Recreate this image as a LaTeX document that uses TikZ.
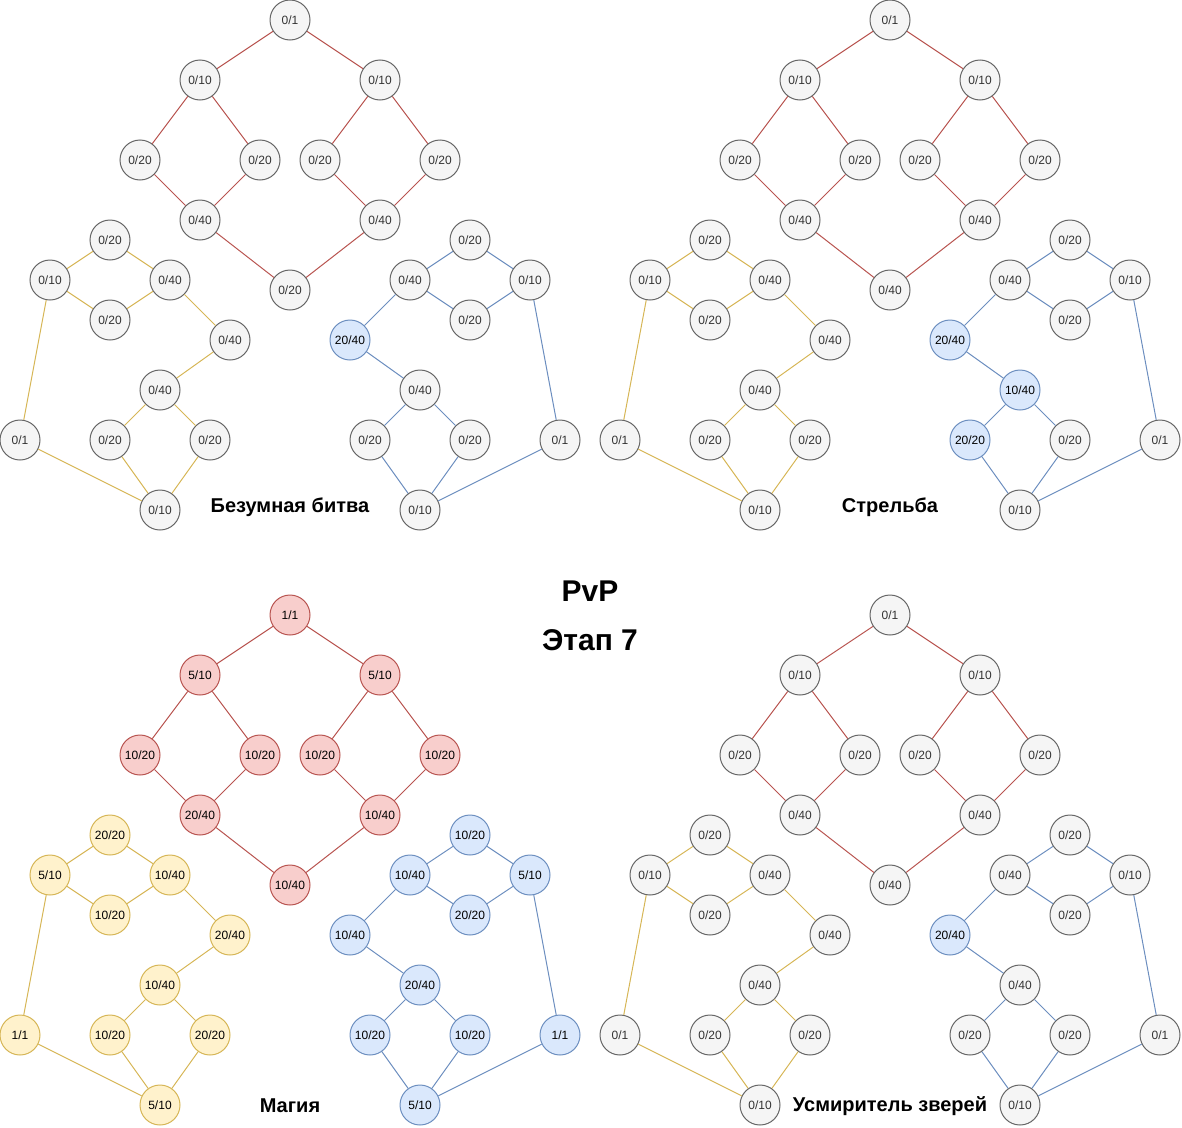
\documentclass[tikz,border=0pt]{standalone}
\usepackage{fontspec}
\setmainfont{Liberation Sans}
\definecolor{grayfill}{HTML}{F5F5F5}
\definecolor{graydraw}{HTML}{666666}
\definecolor{graytext}{HTML}{333333}
\definecolor{redfill}{HTML}{F8CECC}
\definecolor{redline}{HTML}{B85450}
\definecolor{yelfill}{HTML}{FFF2CC}
\definecolor{yelline}{HTML}{D6B656}
\definecolor{bluefill}{HTML}{DAE8FC}
\definecolor{blueline}{HTML}{6C8EBF}
\begin{document}
\begin{tikzpicture}[x=1pt,y=-1pt]
  \tikzset{lvl/.style={circle,draw=graydraw,fill=grayfill,text=graytext,line width=1pt,minimum
      size=40pt,inner sep=0pt,font=\fontsize{12}{14}\selectfont},gnode/.style={lvl},
    rnode/.style={lvl,draw=redline,fill=redfill,text=black},ynode/.style={lvl,draw=yelline,
      fill=yelfill,text=black},bnode/.style={lvl,draw=blueline,fill=bluefill,text=black},
    redl/.style={draw=redline,line width=1pt},yell/.style={draw=yelline,line width=1pt},
    bluel/.style={draw=blueline,line width=1pt},
    tree/.style={font=\bfseries\fontsize{20}{24}\selectfont},
    head/.style={font=\bfseries\fontsize{30}{36}\selectfont}}
  \useasboundingbox (0,0) rectangle (1182,1127);

  % Безумная битва
  \begin{scope}[shift={(0,0)}]
    \node[gnode] (bbr0) at (290,20) {0/1};
    \node[gnode] (bbr1) at (200,80) {0/10};
    \node[gnode] (bbr2) at (380,80) {0/10};
    \node[gnode] (bbr3) at (140,160) {0/20};
    \node[gnode] (bbr4) at (260,160) {0/20};
    \node[gnode] (bbr5) at (320,160) {0/20};
    \node[gnode] (bbr6) at (440,160) {0/20};
    \node[gnode] (bbr7) at (200,220) {0/40};
    \node[gnode] (bbr8) at (380,220) {0/40};
    \node[gnode] (bbr9) at (290,290) {0/20};
    \node[gnode] (bby0) at (110,240) {0/20};
    \node[gnode] (bby1) at (50,280) {0/10};
    \node[gnode] (bby2) at (170,280) {0/40};
    \node[gnode] (bby3) at (110,320) {0/20};
    \node[gnode] (bby4) at (230,340) {0/40};
    \node[gnode] (bby5) at (160,390) {0/40};
    \node[gnode] (bby6) at (20,440) {0/1};
    \node[gnode] (bby7) at (110,440) {0/20};
    \node[gnode] (bby8) at (210,440) {0/20};
    \node[gnode] (bby9) at (160,510) {0/10};
    \node[gnode] (bbb0) at (470,240) {0/20};
    \node[gnode] (bbb1) at (410,280) {0/40};
    \node[gnode] (bbb2) at (530,280) {0/10};
    \node[gnode] (bbb3) at (470,320) {0/20};
    \node[bnode] (bbb4) at (350,340) {20/40};
    \node[gnode] (bbb5) at (420,390) {0/40};
    \node[gnode] (bbb6) at (370,440) {0/20};
    \node[gnode] (bbb7) at (470,440) {0/20};
    \node[gnode] (bbb8) at (560,440) {0/1};
    \node[gnode] (bbb9) at (420,510) {0/10};
    \node[tree] (bbname) at (290,507) {Безумная битва};
  \end{scope}

  % Стрельба
  \begin{scope}[shift={(600,0)}]
    \node[gnode] (str0) at (290,20) {0/1};
    \node[gnode] (str1) at (200,80) {0/10};
    \node[gnode] (str2) at (380,80) {0/10};
    \node[gnode] (str3) at (140,160) {0/20};
    \node[gnode] (str4) at (260,160) {0/20};
    \node[gnode] (str5) at (320,160) {0/20};
    \node[gnode] (str6) at (440,160) {0/20};
    \node[gnode] (str7) at (200,220) {0/40};
    \node[gnode] (str8) at (380,220) {0/40};
    \node[gnode] (str9) at (290,290) {0/40};
    \node[gnode] (sty0) at (110,240) {0/20};
    \node[gnode] (sty1) at (50,280) {0/10};
    \node[gnode] (sty2) at (170,280) {0/40};
    \node[gnode] (sty3) at (110,320) {0/20};
    \node[gnode] (sty4) at (230,340) {0/40};
    \node[gnode] (sty5) at (160,390) {0/40};
    \node[gnode] (sty6) at (20,440) {0/1};
    \node[gnode] (sty7) at (110,440) {0/20};
    \node[gnode] (sty8) at (210,440) {0/20};
    \node[gnode] (sty9) at (160,510) {0/10};
    \node[gnode] (stb0) at (470,240) {0/20};
    \node[gnode] (stb1) at (410,280) {0/40};
    \node[gnode] (stb2) at (530,280) {0/10};
    \node[gnode] (stb3) at (470,320) {0/20};
    \node[bnode] (stb4) at (350,340) {20/40};
    \node[bnode] (stb5) at (420,390) {10/40};
    \node[bnode] (stb6) at (370,440) {20/20};
    \node[gnode] (stb7) at (470,440) {0/20};
    \node[gnode] (stb8) at (560,440) {0/1};
    \node[gnode] (stb9) at (420,510) {0/10};
    \node[tree] (stname) at (290,507) {Стрельба};
  \end{scope}

  % Магия
  \begin{scope}[shift={(0,595)}]
    \node[rnode] (mgr0) at (290,20) {1/1};
    \node[rnode] (mgr1) at (200,80) {5/10};
    \node[rnode] (mgr2) at (380,80) {5/10};
    \node[rnode] (mgr3) at (140,160) {10/20};
    \node[rnode] (mgr4) at (260,160) {10/20};
    \node[rnode] (mgr5) at (320,160) {10/20};
    \node[rnode] (mgr6) at (440,160) {10/20};
    \node[rnode] (mgr7) at (200,220) {20/40};
    \node[rnode] (mgr8) at (380,220) {10/40};
    \node[rnode] (mgr9) at (290,290) {10/40};
    \node[ynode] (mgy0) at (110,240) {20/20};
    \node[ynode] (mgy1) at (50,280) {5/10};
    \node[ynode] (mgy2) at (170,280) {10/40};
    \node[ynode] (mgy3) at (110,320) {10/20};
    \node[ynode] (mgy4) at (230,340) {20/40};
    \node[ynode] (mgy5) at (160,390) {10/40};
    \node[ynode] (mgy6) at (20,440) {1/1};
    \node[ynode] (mgy7) at (110,440) {10/20};
    \node[ynode] (mgy8) at (210,440) {20/20};
    \node[ynode] (mgy9) at (160,510) {5/10};
    \node[bnode] (mgb0) at (470,240) {10/20};
    \node[bnode] (mgb1) at (410,280) {10/40};
    \node[bnode] (mgb2) at (530,280) {5/10};
    \node[bnode] (mgb3) at (470,320) {20/20};
    \node[bnode] (mgb4) at (350,340) {10/40};
    \node[bnode] (mgb5) at (420,390) {20/40};
    \node[bnode] (mgb6) at (370,440) {10/20};
    \node[bnode] (mgb7) at (470,440) {10/20};
    \node[bnode] (mgb8) at (560,440) {1/1};
    \node[bnode] (mgb9) at (420,510) {5/10};
    \node[tree] (mgname) at (290,511) {Магия};
  \end{scope}

  % Усмиритель зверей
  \begin{scope}[shift={(600,595)}]
    \node[gnode] (usr0) at (290,20) {0/1};
    \node[gnode] (usr1) at (200,80) {0/10};
    \node[gnode] (usr2) at (380,80) {0/10};
    \node[gnode] (usr3) at (140,160) {0/20};
    \node[gnode] (usr4) at (260,160) {0/20};
    \node[gnode] (usr5) at (320,160) {0/20};
    \node[gnode] (usr6) at (440,160) {0/20};
    \node[gnode] (usr7) at (200,220) {0/40};
    \node[gnode] (usr8) at (380,220) {0/40};
    \node[gnode] (usr9) at (290,290) {0/40};
    \node[gnode] (usy0) at (110,240) {0/20};
    \node[gnode] (usy1) at (50,280) {0/10};
    \node[gnode] (usy2) at (170,280) {0/40};
    \node[gnode] (usy3) at (110,320) {0/20};
    \node[gnode] (usy4) at (230,340) {0/40};
    \node[gnode] (usy5) at (160,390) {0/40};
    \node[gnode] (usy6) at (20,440) {0/1};
    \node[gnode] (usy7) at (110,440) {0/20};
    \node[gnode] (usy8) at (210,440) {0/20};
    \node[gnode] (usy9) at (160,510) {0/10};
    \node[gnode] (usb0) at (470,240) {0/20};
    \node[gnode] (usb1) at (410,280) {0/40};
    \node[gnode] (usb2) at (530,280) {0/10};
    \node[gnode] (usb3) at (470,320) {0/20};
    \node[bnode] (usb4) at (350,340) {20/40};
    \node[gnode] (usb5) at (420,390) {0/40};
    \node[gnode] (usb6) at (370,440) {0/20};
    \node[gnode] (usb7) at (470,440) {0/20};
    \node[gnode] (usb8) at (560,440) {0/1};
    \node[gnode] (usb9) at (420,510) {0/10};
    \node[tree] (usname) at (290,511) {Усмиритель зверей};
  \end{scope}

  \node[head] (pvp) at (590,591) {PvP};
  \node[head] (stage) at (590,640) {Этап 7};

  % same links in every tree
  \foreach \q in {bb,st,mg,us} {
    \foreach \u/\v in {r0/r1,r0/r2,r1/r3,r1/r4,r3/r7,r4/r7,r2/r5,r2/r6,r5/r8,r6/r8,r7/r9,r8/r9}
      \draw[redl] (\q\u) -- (\q\v);
    \foreach \u/\v in {y1/y0,y0/y2,y1/y3,y3/y2,y2/y4,y4/y5,y5/y7,y5/y8,y7/y9,y8/y9,y1/y6,y6/y9}
      \draw[yell] (\q\u) -- (\q\v);
    \foreach \u/\v in {b1/b0,b0/b2,b1/b3,b3/b2,b1/b4,b4/b5,b5/b6,b5/b7,b6/b9,b7/b9,b2/b8,b8/b9}
      \draw[bluel] (\q\u) -- (\q\v);
  }
\end{tikzpicture}
\end{document}
